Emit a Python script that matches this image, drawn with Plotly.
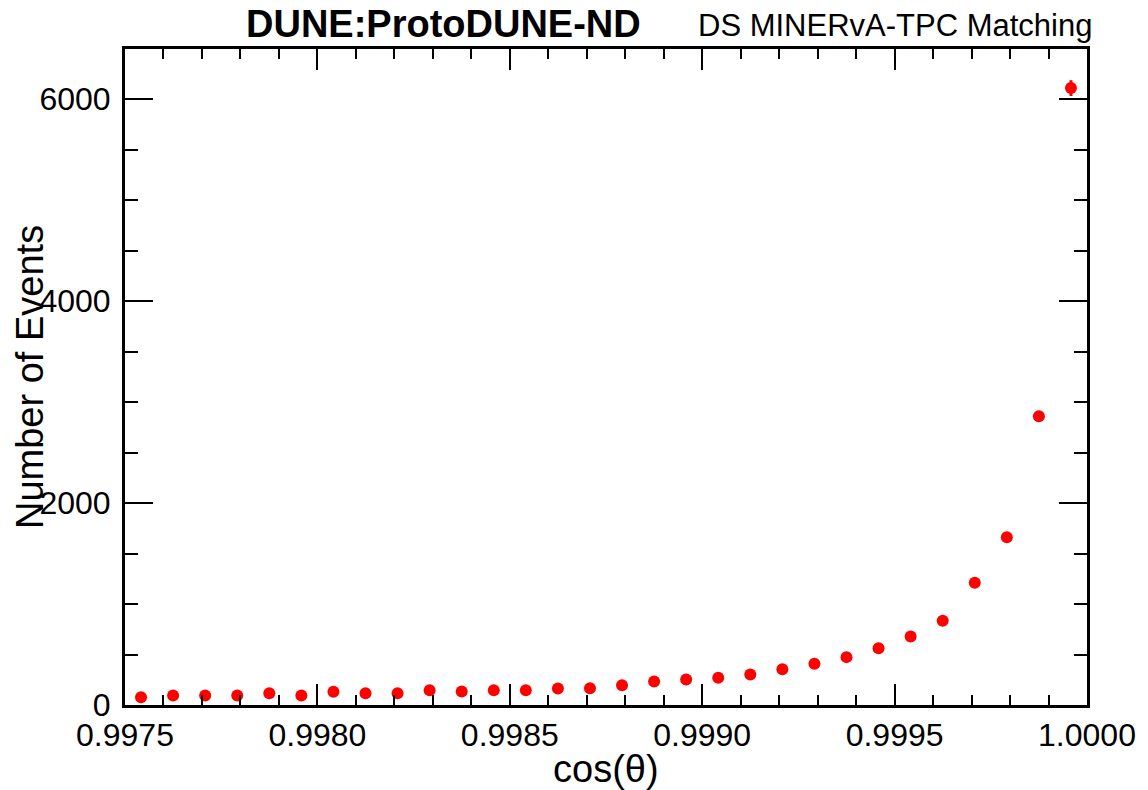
import numpy as np
import plotly.graph_objects as go

# Histogram binning (cos(theta))
x_low = 0.9975
x_high = 1.0
n_bins = 30

# Event counts per bin
counts = [77, 94, 94, 94, 117, 94, 131, 117, 117, 147,
          134, 147, 147, 164, 166, 196, 233, 253, 270, 302,
          355, 408, 474, 563, 679, 834, 1211, 1660, 2859, 6108]

y_max = 6495

edges = np.linspace(x_low, x_high, n_bins + 1)
centers = 0.5 * (edges[:-1] + edges[1:])
errors = np.sqrt(np.array(counts, dtype=float))

FONT = "Liberation Sans, Arial, Helvetica, sans-serif"

fig = go.Figure()
fig.add_trace(go.Scatter(
    x=centers, y=counts, mode="markers",
    marker=dict(color="#ff0000", size=12, line=dict(width=0)),
    error_y=dict(type="data", array=errors, color="#ff0000", thickness=3, width=0),
    showlegend=False, hoverinfo="x+y",
))

fig.update_layout(
    width=1148, height=790,
    margin=dict(l=125, r=58, t=49, b=85),
    paper_bgcolor="white", plot_bgcolor="white",
    font=dict(family=FONT, color="black"),
)

fig.update_xaxes(
    range=[x_low, x_high], showgrid=False, zeroline=False,
    showline=True, linewidth=3, linecolor="black", mirror="allticks",
    ticks="inside", ticklen=21, tickwidth=2, tickcolor="black",
    tick0=x_low, dtick=0.0005, tickformat=".4f",
    tickfont=dict(family=FONT, size=32, color="black"),
    minor=dict(ticks="inside", ticklen=10, tickwidth=2, tickcolor="black", dtick=0.0001),
)
fig.update_yaxes(
    range=[0, y_max], showgrid=False, zeroline=False,
    showline=True, linewidth=3, linecolor="black", mirror="allticks",
    ticks="inside", ticklen=28, tickwidth=2, tickcolor="black",
    tick0=0, dtick=2000, tickformat="d", ticklabelstandoff=5,
    tickfont=dict(family=FONT, size=32, color="black"),
    minor=dict(ticks="inside", ticklen=13, tickwidth=2, tickcolor="black", dtick=500),
)

fig.add_annotation(text="<b>DUNE:ProtoDUNE-ND</b>", xref="paper", yref="paper",
                   x=0.3306, y=1, xanchor="center", yanchor="middle", yshift=25,
                   showarrow=False, font=dict(family=FONT, size=38, color="black"))
fig.add_annotation(text="DS MINERvA-TPC Matching", xref="paper", yref="paper",
                   x=1.0073, y=1, xanchor="right", yanchor="middle", yshift=24,
                   showarrow=False, font=dict(family=FONT, size=31, color="black"))
fig.add_annotation(text="cos(θ)", xref="paper", yref="paper",
                   x=0.5, y=0, xanchor="center", yanchor="middle", yshift=-64,
                   showarrow=False, font=dict(family=FONT, size=38, color="black"))
fig.add_annotation(text="Number of Events", xref="paper", yref="paper",
                   x=0, y=0.5, xanchor="center", yanchor="middle", xshift=-95,
                   textangle=-90, showarrow=False,
                   font=dict(family=FONT, size=38, color="black"))

fig.write_html("out.html", config={"displayModeBar": False},
               post_script="document.body.style.margin='0';")
